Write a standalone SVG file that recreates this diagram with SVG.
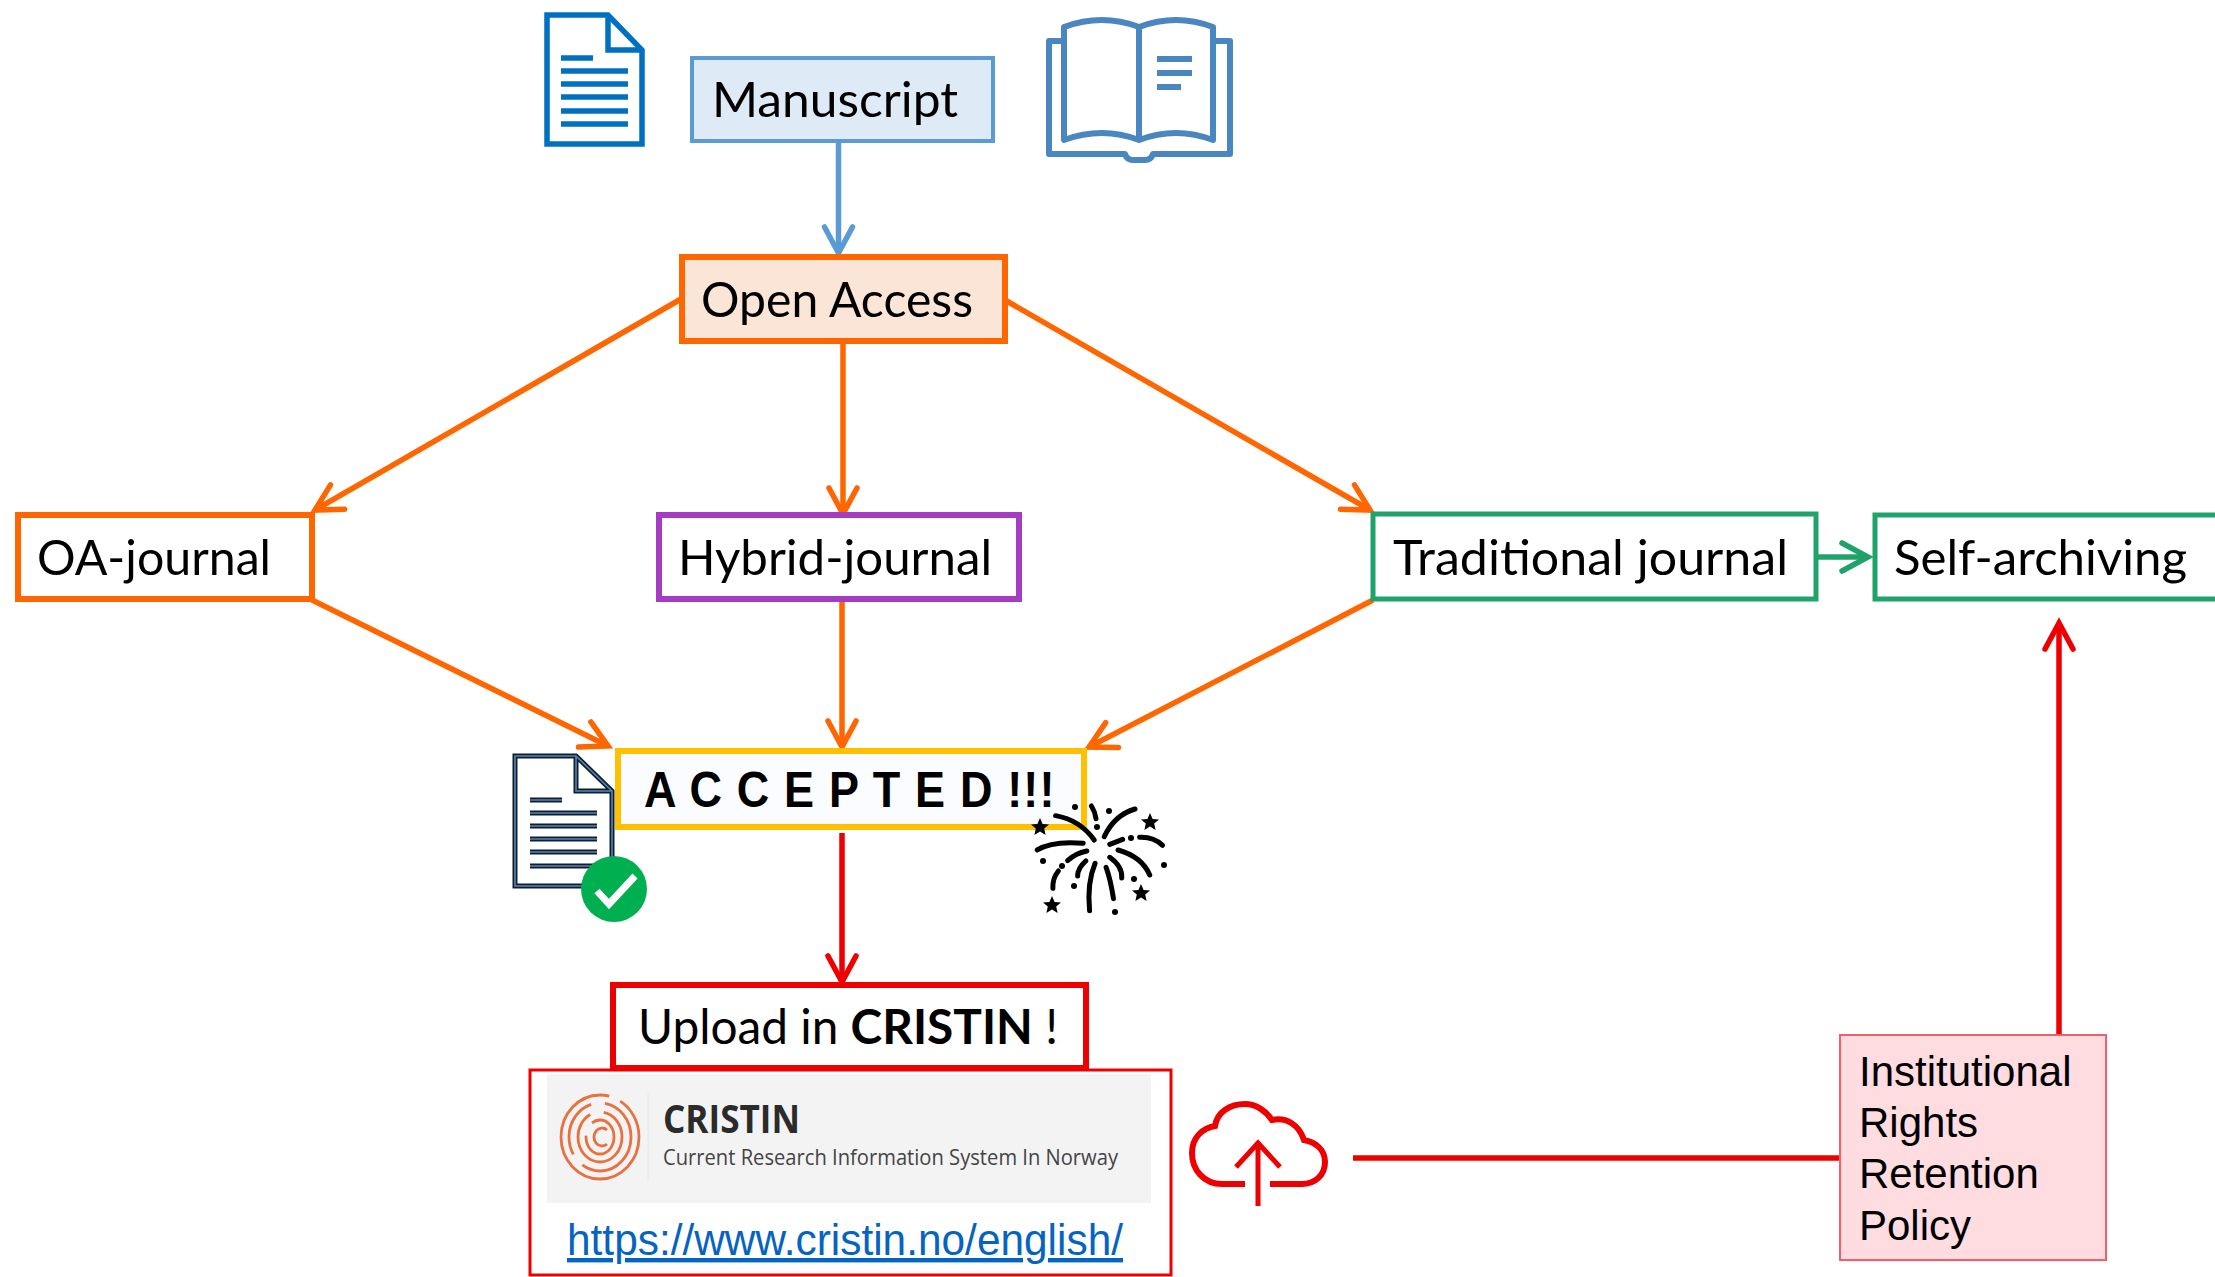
<svg xmlns="http://www.w3.org/2000/svg" xmlns:xlink="http://www.w3.org/1999/xlink" width="2215" height="1277" viewBox="0 0 2215 1277">
<style>
.t{font-family:Lato,"Open Sans",sans-serif;font-size:48px;fill:#000}
.a{font-family:"Liberation Sans",Arial,sans-serif;fill:#000}
.c{fill:none;stroke-width:5.5}
.fw{fill:none;stroke:#000;stroke-width:5;stroke-linecap:round;vector-effect:non-scaling-stroke}
.doc{fill:none;stroke:#0070C0;stroke-width:5.5}
.bk{fill:none;stroke:#4A86BF;stroke-width:6;stroke-linejoin:round}
.ring{fill:none;stroke:#E9703F;stroke-width:2.8}
</style>
<defs>
<marker id="mb" markerUnits="userSpaceOnUse" markerWidth="40" markerHeight="40" refX="30" refY="20" orient="auto"><path d="M4 6L30 20L4 34" fill="none" stroke="#5B9BD5" stroke-width="5.5" stroke-linecap="round"/></marker>
<marker id="mo" markerUnits="userSpaceOnUse" markerWidth="40" markerHeight="40" refX="30" refY="20" orient="auto"><path d="M4 6L30 20L4 34" fill="none" stroke="#FF6600" stroke-width="5.5" stroke-linecap="round"/></marker>
<marker id="mr" markerUnits="userSpaceOnUse" markerWidth="40" markerHeight="40" refX="30" refY="20" orient="auto"><path d="M4 6L30 20L4 34" fill="none" stroke="#EE0000" stroke-width="5.5" stroke-linecap="round"/></marker>
<marker id="mg" markerUnits="userSpaceOnUse" markerWidth="40" markerHeight="40" refX="30" refY="20" orient="auto"><path d="M4 6L30 20L4 34" fill="none" stroke="#1FA36B" stroke-width="5.5" stroke-linecap="round"/></marker>
<polygon id="star" points="0,-9 2.6,-3 9,-2.6 4.2,1.6 5.6,8 0,4.6 -5.6,8 -4.2,1.6 -9,-2.6 -2.6,-3" fill="#000"/>
</defs>

<g id="connectors">
<path class="c" stroke="#5B9BD5" d="M838.5 141V253" marker-end="url(#mb)"/>
<path class="c" stroke="#FF6600" d="M681 299L315 510" marker-end="url(#mo)"/>
<path class="c" stroke="#FF6600" d="M843 341V514" marker-end="url(#mo)"/>
<path class="c" stroke="#FF6600" d="M1005 300L1370 510" marker-end="url(#mo)"/>
<path class="c" stroke="#FF6600" d="M312 600L608 746" marker-end="url(#mo)"/>
<path class="c" stroke="#FF6600" d="M842 600V747" marker-end="url(#mo)"/>
<path class="c" stroke="#FF6600" d="M1373 600L1089 747" marker-end="url(#mo)"/>
<path class="c" stroke="#EE0000" d="M842 833V982" marker-end="url(#mr)"/>
<path class="c" stroke="#1FA36B" d="M1816 557H1868" marker-end="url(#mg)"/>
<path class="c" stroke="#EE0000" d="M2059 1034V623" marker-end="url(#mr)"/>
<path class="c" stroke="#EE0000" d="M1353 1158H1839"/>
</g>

<g id="manuscript-doc">
<path class="doc" d="M547 15H608L642 50V144H547Z"/>
<path class="doc" d="M608 15V50H642"/>
<path class="doc" d="M561 58H593M561 71H628M561 84H628M561 97H628M561 111H628M561 124H628"/>
</g>
<g id="book">
<path class="bk" d="M1064 27Q1102 13 1139 27Q1176 13 1213 27V140Q1176 126 1139 140Q1102 126 1064 140Z"/>
<path class="bk" d="M1139 27V140"/>
<path class="bk" d="M1064 41H1049V154H1125Q1127 160 1133 160H1145Q1151 160 1153 154H1230V41H1213"/>
<path class="bk" d="M1157 59H1192M1157 73H1192M1157 87H1181"/>
</g>
<g id="manuscript">
<rect x="692" y="58" width="301" height="83" fill="#DEEAF6" stroke="#5B9BD5" stroke-width="4"/>
<text class="t" x="712" y="117" textLength="246" lengthAdjust="spacingAndGlyphs">Manuscript</text>
</g>
<g id="open-access">
<rect x="682" y="257" width="323" height="84" fill="#FBE5D6" stroke="#FF6600" stroke-width="6"/>
<text class="t" x="701" y="317" textLength="272" lengthAdjust="spacingAndGlyphs">Open Access</text>
</g>
<g id="oa-journal">
<rect x="18" y="515" width="294" height="84" fill="#fff" stroke="#FF6600" stroke-width="6"/>
<text class="t" x="37" y="575" textLength="234" lengthAdjust="spacingAndGlyphs">OA-journal</text>
</g>
<g id="hybrid-journal">
<rect x="659" y="515" width="360" height="84" fill="#fff" stroke="#A63CC4" stroke-width="6"/>
<text class="t" x="678" y="575" textLength="314" lengthAdjust="spacingAndGlyphs">Hybrid-journal</text>
</g>
<g id="traditional-journal">
<rect x="1373" y="514" width="443" height="85" fill="#fff" stroke="#1FA36B" stroke-width="5"/>
<text class="t" x="1393" y="575" textLength="395" lengthAdjust="spacingAndGlyphs">Traditional journal</text>
</g>
<g id="self-archiving">
<rect x="1875" y="515" width="350" height="84" fill="#fff" stroke="#1FA36B" stroke-width="5"/>
<text class="t" x="1894" y="575" textLength="293" lengthAdjust="spacingAndGlyphs">Self-archiving</text>
</g>
<g id="accepted">
<rect x="618" y="751" width="466" height="76" fill="#FBFCFF" stroke="#FFC000" stroke-width="6"/>
<text class="a" transform="translate(644 807) scale(.9 1)" font-size="50" font-weight="bold" textLength="456" lengthAdjust="spacing">A C C E P T E D !!!</text>
</g>
<g id="accepted-doc">
<path d="M515 756H576L612 791V886H515Z M576 756V791H612" fill="none" stroke="#111E30" stroke-width="5"/>
<path d="M515 756H576L612 791V886H515Z M576 756V791H612" fill="none" stroke="#5585B0" stroke-width="1.6"/>
<path d="M530 800H562M530 813H597M530 826H597M530 839H597M530 852H597M530 866H597" stroke="#111E30" stroke-width="5" fill="none"/>
<path d="M530 800H562M530 813H597M530 826H597M530 839H597M530 852H597M530 866H597" stroke="#5585B0" stroke-width="1.6" fill="none"/>
<circle cx="614" cy="889" r="33" fill="#00B050"/>
<path d="M597 891L609 904L635 876" fill="none" stroke="#fff" stroke-width="7"/>
</g>
<g id="fireworks">
<g transform="translate(490 720) scale(.4591 .3333)">
<path class="fw" d="M1232 287Q1285 300 1316 360M1310 258Q1318 275 1320 296M1405 267Q1360 285 1338 350M1192 390Q1225 362 1292 370M1350 373L1378 358M1415 352Q1445 350 1465 376M1258 422Q1275 400 1300 393M1368 390Q1420 410 1437 465M1298 423Q1280 445 1280 468M1350 412Q1378 440 1376 474M1318 430Q1300 490 1306 572M1342 442Q1352 480 1358 536M1238 453Q1225 475 1226 505"/>
</g>
<g fill="#000">
<circle cx="1075" cy="807" r="3"/><circle cx="1109" cy="811" r="3"/><circle cx="1097" cy="827" r="3"/><circle cx="1131" cy="838" r="3"/><circle cx="1043" cy="861" r="3"/><circle cx="1062" cy="866" r="3"/><circle cx="1164" cy="865" r="3"/><circle cx="1134" cy="879" r="3"/><circle cx="1074" cy="886" r="3"/><circle cx="1115" cy="912" r="3"/>
</g>
<use xlink:href="#star" href="#star" x="1040" y="827"/>
<use xlink:href="#star" href="#star" x="1150" y="822"/>
<use xlink:href="#star" href="#star" x="1141" y="893"/>
<use xlink:href="#star" href="#star" x="1052" y="905"/>
</g>
<g id="upload">
<rect x="613" y="985" width="473" height="83" fill="#fff" stroke="#EE0000" stroke-width="6"/>
<text class="t" x="638" y="1044" textLength="420" lengthAdjust="spacingAndGlyphs">Upload in <tspan font-weight="bold">CRISTIN</tspan> !</text>
</g>
<g id="cristin">
<rect x="530" y="1070" width="641" height="205" fill="#fff" stroke="#EE0000" stroke-width="3"/>
<rect x="547" y="1074" width="604" height="129" fill="#F3F3F3"/>
<g id="cristin-logo">
<ellipse class="ring" cx="600" cy="1137" rx="39" ry="42" stroke-dasharray="200 12"/>
<ellipse class="ring" cx="600" cy="1137" rx="31" ry="34" stroke-dasharray="70 14 60 14"/>
<ellipse class="ring" cx="600" cy="1137" rx="22" ry="25" stroke-dasharray="100 14"/>
<ellipse class="ring" cx="600" cy="1137" rx="14" ry="17" stroke-dasharray="50 14"/>
<path class="ring" d="M607 1130A8 9 0 1 0 607 1144"/>
</g>
<path d="M648 1093V1181" stroke="#E8E8E8" stroke-width="1"/>
<text x="663" y="1133" font-family="Open Sans,sans-serif" font-size="39" font-weight="700" fill="#2B2B2B" textLength="137" lengthAdjust="spacingAndGlyphs">CRISTIN</text>
<text x="663" y="1165" font-family="Open Sans,sans-serif" font-size="21" fill="#444" textLength="455" lengthAdjust="spacingAndGlyphs">Current Research Information System In Norway</text>
<text class="a" x="567" y="1255" font-size="44" style="fill:#0563C1" text-decoration="underline" textLength="556" lengthAdjust="spacingAndGlyphs">https://www.cristin.no/english/</text>
</g>
<g id="cloud">
<path d="M1245 1184H1222C1204 1184 1192 1170 1192 1153C1192 1137 1203 1128 1215 1126C1217 1112 1230 1104 1245 1104C1256 1104 1266 1111 1272 1120C1287 1117 1299 1125 1304 1140C1316 1142 1325 1150 1325 1162C1325 1176 1314 1184 1302 1184H1270" fill="none" stroke="#EE0000" stroke-width="6"/>
<path d="M1258 1206V1143M1236 1167L1258 1143L1280 1167" fill="none" stroke="#EE0000" stroke-width="5"/>
</g>
<g id="irrp">
<rect x="1840" y="1035" width="266" height="225" fill="#FFDCE0" stroke="#F0606A" stroke-width="2"/>
<text class="a" font-size="42"><tspan x="1859" y="1086">Institutional</tspan><tspan x="1859" y="1137">Rights</tspan><tspan x="1859" y="1188">Retention</tspan><tspan x="1859" y="1240">Policy</tspan></text>
</g>
</svg>
